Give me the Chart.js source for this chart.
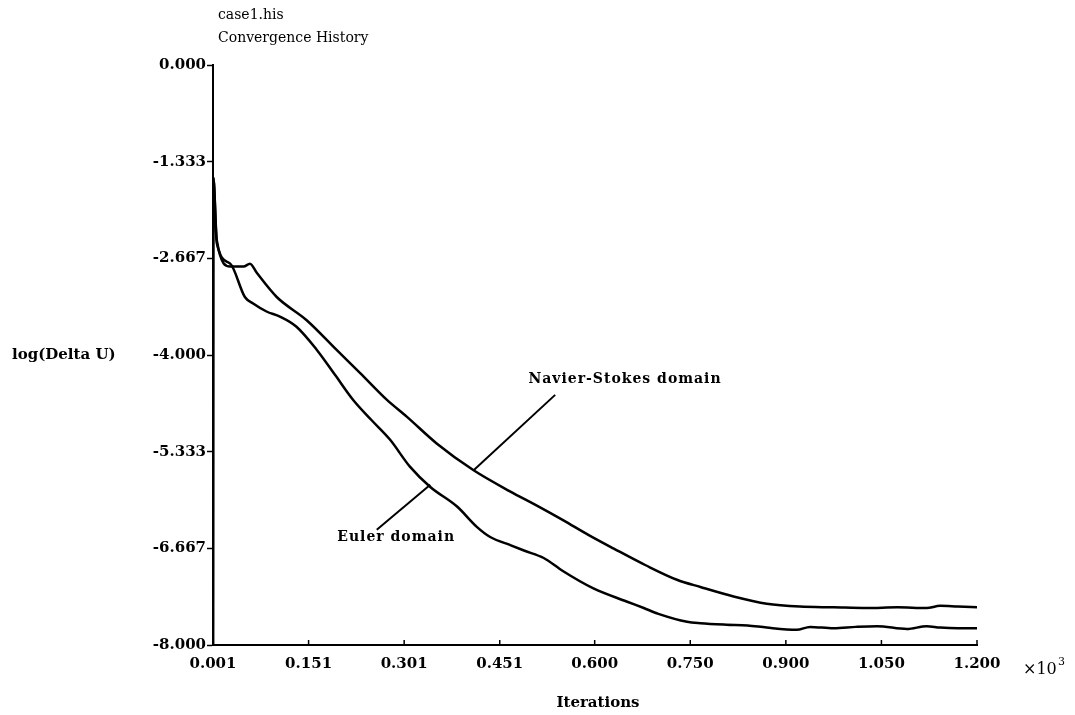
<!DOCTYPE html>
<html lang="en">
<head>
  <meta charset="UTF-8">
  <title>case1.his - Convergence History</title>
  <script src="https://cdn.jsdelivr.net/npm/chart.js"></script>
  <style>
    body {
      margin: 0;
      background-color: white;
    }
    .chart-box {
      width: 1075px;
      height: 715px;
    }
  </style>
</head>
<body>
  <div class="chart-box">
    <canvas id="convChart" width="1075" height="715"></canvas>
  </div>

  <script>
    // iterations (x10^3) and log(Delta U)
    const nsIter = [0.001, 0.0015, 0.007, 0.028, 0.049, 0.059, 0.070, 0.101, 0.148, 0.195, 0.232, 0.274, 0.305, 0.352, 0.410, 0.467, 0.510, 0.551, 0.590, 0.630, 0.680, 0.729, 0.766, 0.818, 0.870, 0.922, 0.975, 1.027, 1.075, 1.121, 1.142, 1.170, 1.200];
    const nsLogDU = [-8.0, -1.55, -2.42, -2.78, -2.78, -2.74, -2.87, -3.20, -3.52, -3.93, -4.25, -4.62, -4.85, -5.22, -5.59, -5.88, -6.08, -6.28, -6.48, -6.67, -6.90, -7.10, -7.20, -7.33, -7.43, -7.47, -7.48, -7.49, -7.48, -7.49, -7.46, -7.47, -7.48];

    const eulerIter = [0.001, 0.0015, 0.007, 0.028, 0.051, 0.064, 0.085, 0.106, 0.132, 0.164, 0.193, 0.221, 0.250, 0.279, 0.310, 0.342, 0.384, 0.415, 0.436, 0.467, 0.490, 0.520, 0.550, 0.598, 0.650, 0.677, 0.700, 0.745, 0.766, 0.807, 0.840, 0.870, 0.917, 0.938, 0.975, 1.010, 1.043, 1.090, 1.121, 1.142, 1.170, 1.200];
    const eulerLogDU = [-8.0, -1.55, -2.46, -2.74, -3.20, -3.29, -3.40, -3.47, -3.61, -3.93, -4.28, -4.62, -4.90, -5.17, -5.54, -5.82, -6.09, -6.37, -6.51, -6.62, -6.70, -6.80, -6.98, -7.22, -7.40, -7.49, -7.57, -7.68, -7.70, -7.72, -7.73, -7.76, -7.79, -7.75, -7.77, -7.75, -7.74, -7.78, -7.74, -7.76, -7.77, -7.77];

    const xTicks = [0.001, 0.151, 0.301, 0.451, 0.600, 0.750, 0.900, 1.050, 1.200];
    const yTicks = [0, -1.333, -2.667, -4.0, -5.333, -6.667, -8.0];

    const titleLines = ['case1.his', 'Convergence History'];

    // pointer lines for the curve labels, in data units
    const callouts = [
      { text: 'Navier-Stokes domain', from: [0.410, -5.59], to: [0.538, -4.55], at: [0.496, -4.34] },
      { text: 'Euler domain', from: [0.342, -5.79], to: [0.258, -6.41], at: [0.196, -6.51] }
    ];

    const serif = '"DejaVu Serif", "Liberation Serif", serif';

    const pairs = (xs, ys) => xs.map((x, i) => ({ x: x, y: ys[i] }));

    const extrasPlugin = {
      id: 'extras',
      afterDraw(chart) {
        const ctx = chart.ctx;
        const xs = chart.scales.x;
        const ys = chart.scales.y;
        const area = chart.chartArea;
        ctx.save();
        ctx.fillStyle = '#000';
        ctx.strokeStyle = '#000';

        // x ticks point inward
        ctx.lineWidth = 1.5;
        xTicks.forEach(v => {
          const px = xs.getPixelForValue(v);
          ctx.beginPath();
          ctx.moveTo(px, area.bottom);
          ctx.lineTo(px, area.bottom - 5);
          ctx.stroke();
        });

        // title
        ctx.font = '14px ' + serif;
        ctx.textAlign = 'left';
        ctx.textBaseline = 'middle';
        ctx.fillText(titleLines[0], 218, 15);
        ctx.fillText(titleLines[1], 218, 38);

        // axis titles
        ctx.font = 'bold 15px ' + serif;
        ctx.fillText('log(Delta U)', 12, ys.getPixelForValue(-4.0));
        ctx.textAlign = 'center';
        ctx.fillText('Iterations', 598, 703);

        ctx.textAlign = 'left';
        ctx.font = '16px ' + serif;
        ctx.fillText('\u00d710', 1023, 670);
        ctx.font = '11px ' + serif;
        ctx.fillText('3', 1058, 662);

        // callouts
        ctx.lineWidth = 2;
        ctx.font = 'bold 14px ' + serif;
        ctx.letterSpacing = '1px';
        callouts.forEach(c => {
          ctx.beginPath();
          ctx.moveTo(xs.getPixelForValue(c.from[0]), ys.getPixelForValue(c.from[1]));
          ctx.lineTo(xs.getPixelForValue(c.to[0]), ys.getPixelForValue(c.to[1]));
          ctx.stroke();
          ctx.fillText(c.text, xs.getPixelForValue(c.at[0]), ys.getPixelForValue(c.at[1]));
        });
        ctx.restore();
      }
    };

    const ctx = document.getElementById('convChart').getContext('2d');
    const convChart = new Chart(ctx, {
      type: 'line',
      data: {
        datasets: [
          {
            label: 'Navier-Stokes domain',
            data: pairs(nsIter, nsLogDU),
            borderColor: '#000',
            borderWidth: 2.5,
            pointRadius: 0,
            cubicInterpolationMode: 'monotone',
            fill: false
          },
          {
            label: 'Euler domain',
            data: pairs(eulerIter, eulerLogDU),
            borderColor: '#000',
            borderWidth: 2.5,
            pointRadius: 0,
            cubicInterpolationMode: 'monotone',
            fill: false
          }
        ]
      },
      options: {
        responsive: false,
        animation: false,
        layout: {
          padding: { top: 65, right: 98, bottom: 0, left: 0 }
        },
        plugins: {
          legend: { display: false },
          tooltip: { enabled: false }
        },
        scales: {
          x: {
            type: 'linear',
            min: 0.001,
            max: 1.2,
            afterBuildTicks: scale => { scale.ticks = xTicks.map(v => ({ value: v })); },
            afterFit: scale => { scale.height = 70; },
            ticks: {
              color: '#000',
              padding: 10,
              maxRotation: 0,
              font: { family: serif, size: 15, weight: 'bold' },
              callback: v => Number(v).toFixed(3)
            },
            grid: { drawOnChartArea: false, drawTicks: false },
            border: { display: true, color: '#000', width: 2 }
          },
          y: {
            type: 'linear',
            min: -8,
            max: 0,
            afterBuildTicks: scale => { scale.ticks = yTicks.map(v => ({ value: v })); },
            afterFit: scale => { scale.width = 213; },
            ticks: {
              color: '#000',
              padding: 1,
              font: { family: serif, size: 15, weight: 'bold' },
              callback: v => Number(v).toFixed(3)
            },
            grid: { drawOnChartArea: false, drawTicks: true, tickLength: 6, tickWidth: 1.5, tickColor: '#000' },
            border: { display: true, color: '#000', width: 2 }
          }
        }
      },
      plugins: [extrasPlugin]
    });
  </script>
</body>
</html>
